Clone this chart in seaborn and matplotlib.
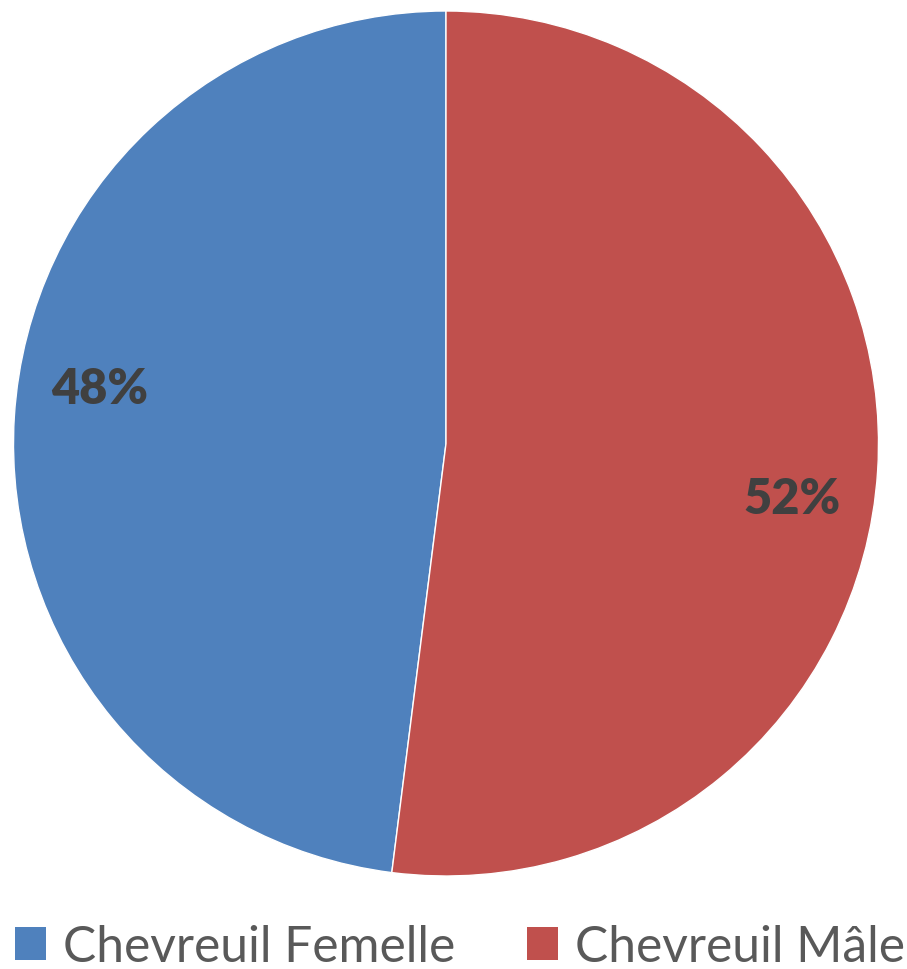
import matplotlib
matplotlib.use("Agg")
import matplotlib.pyplot as plt
import seaborn as sns
import numpy as np
from matplotlib.patches import Patch

sns.set_theme(style="white")
plt.rcParams['font.family'] = ['Lato', 'DejaVu Sans']

categories = ["Chevreuil Femelle", "Chevreuil Mâle"]
values = [48, 52]
colors = ["#4F81BD", "#C0504D"]

fig = plt.figure(figsize=(9.07, 9.70), dpi=100)
ax = fig.add_axes([12 / 907, (970 - 877) / 970, 868 / 907, 865 / 970])

wedges, _ = ax.pie(values, colors=colors, startangle=262.8, counterclock=False,
                   wedgeprops=dict(edgecolor="white", linewidth=1))
ax.set_aspect("equal")
ax.set_xlim(-1, 1)
ax.set_ylim(-1, 1)

# data labels, Excel-style: inside, a bit clockwise of the middle
total = sum(values)
for w, v in zip(wedges, values):
    mid = np.deg2rad((w.theta1 + w.theta2) / 2 - 5.5)
    r = 0.81
    ax.text(r * np.cos(mid), r * np.sin(mid), f"{v / total * 100:.0f}%",
            ha="center", va="center", fontsize=35, fontweight="heavy", color="#404040")

# size legend font so "Chevreuil Femelle" spans ~392 px like the original
renderer = fig.canvas.get_renderer()
probe = fig.text(0, 0, categories[0], fontsize=30)
w30 = probe.get_window_extent(renderer).width
probe.remove()
leg_fs = 30 * 392 / w30

starts = [15, 527]
for cat, col, x0 in zip(categories, colors, starts):
    leg = fig.legend([Patch(facecolor=col, edgecolor="none")], [cat],
                     loc="center left", bbox_to_anchor=(x0 / 907, (970 - 948) / 970),
                     frameon=False, fontsize=leg_fs, handlelength=0.62, handleheight=0.62,
                     handletextpad=0.35, borderpad=0, borderaxespad=0)
    for t in leg.get_texts():
        t.set_color("#595959")

fig.savefig("out.png", dpi=100)
